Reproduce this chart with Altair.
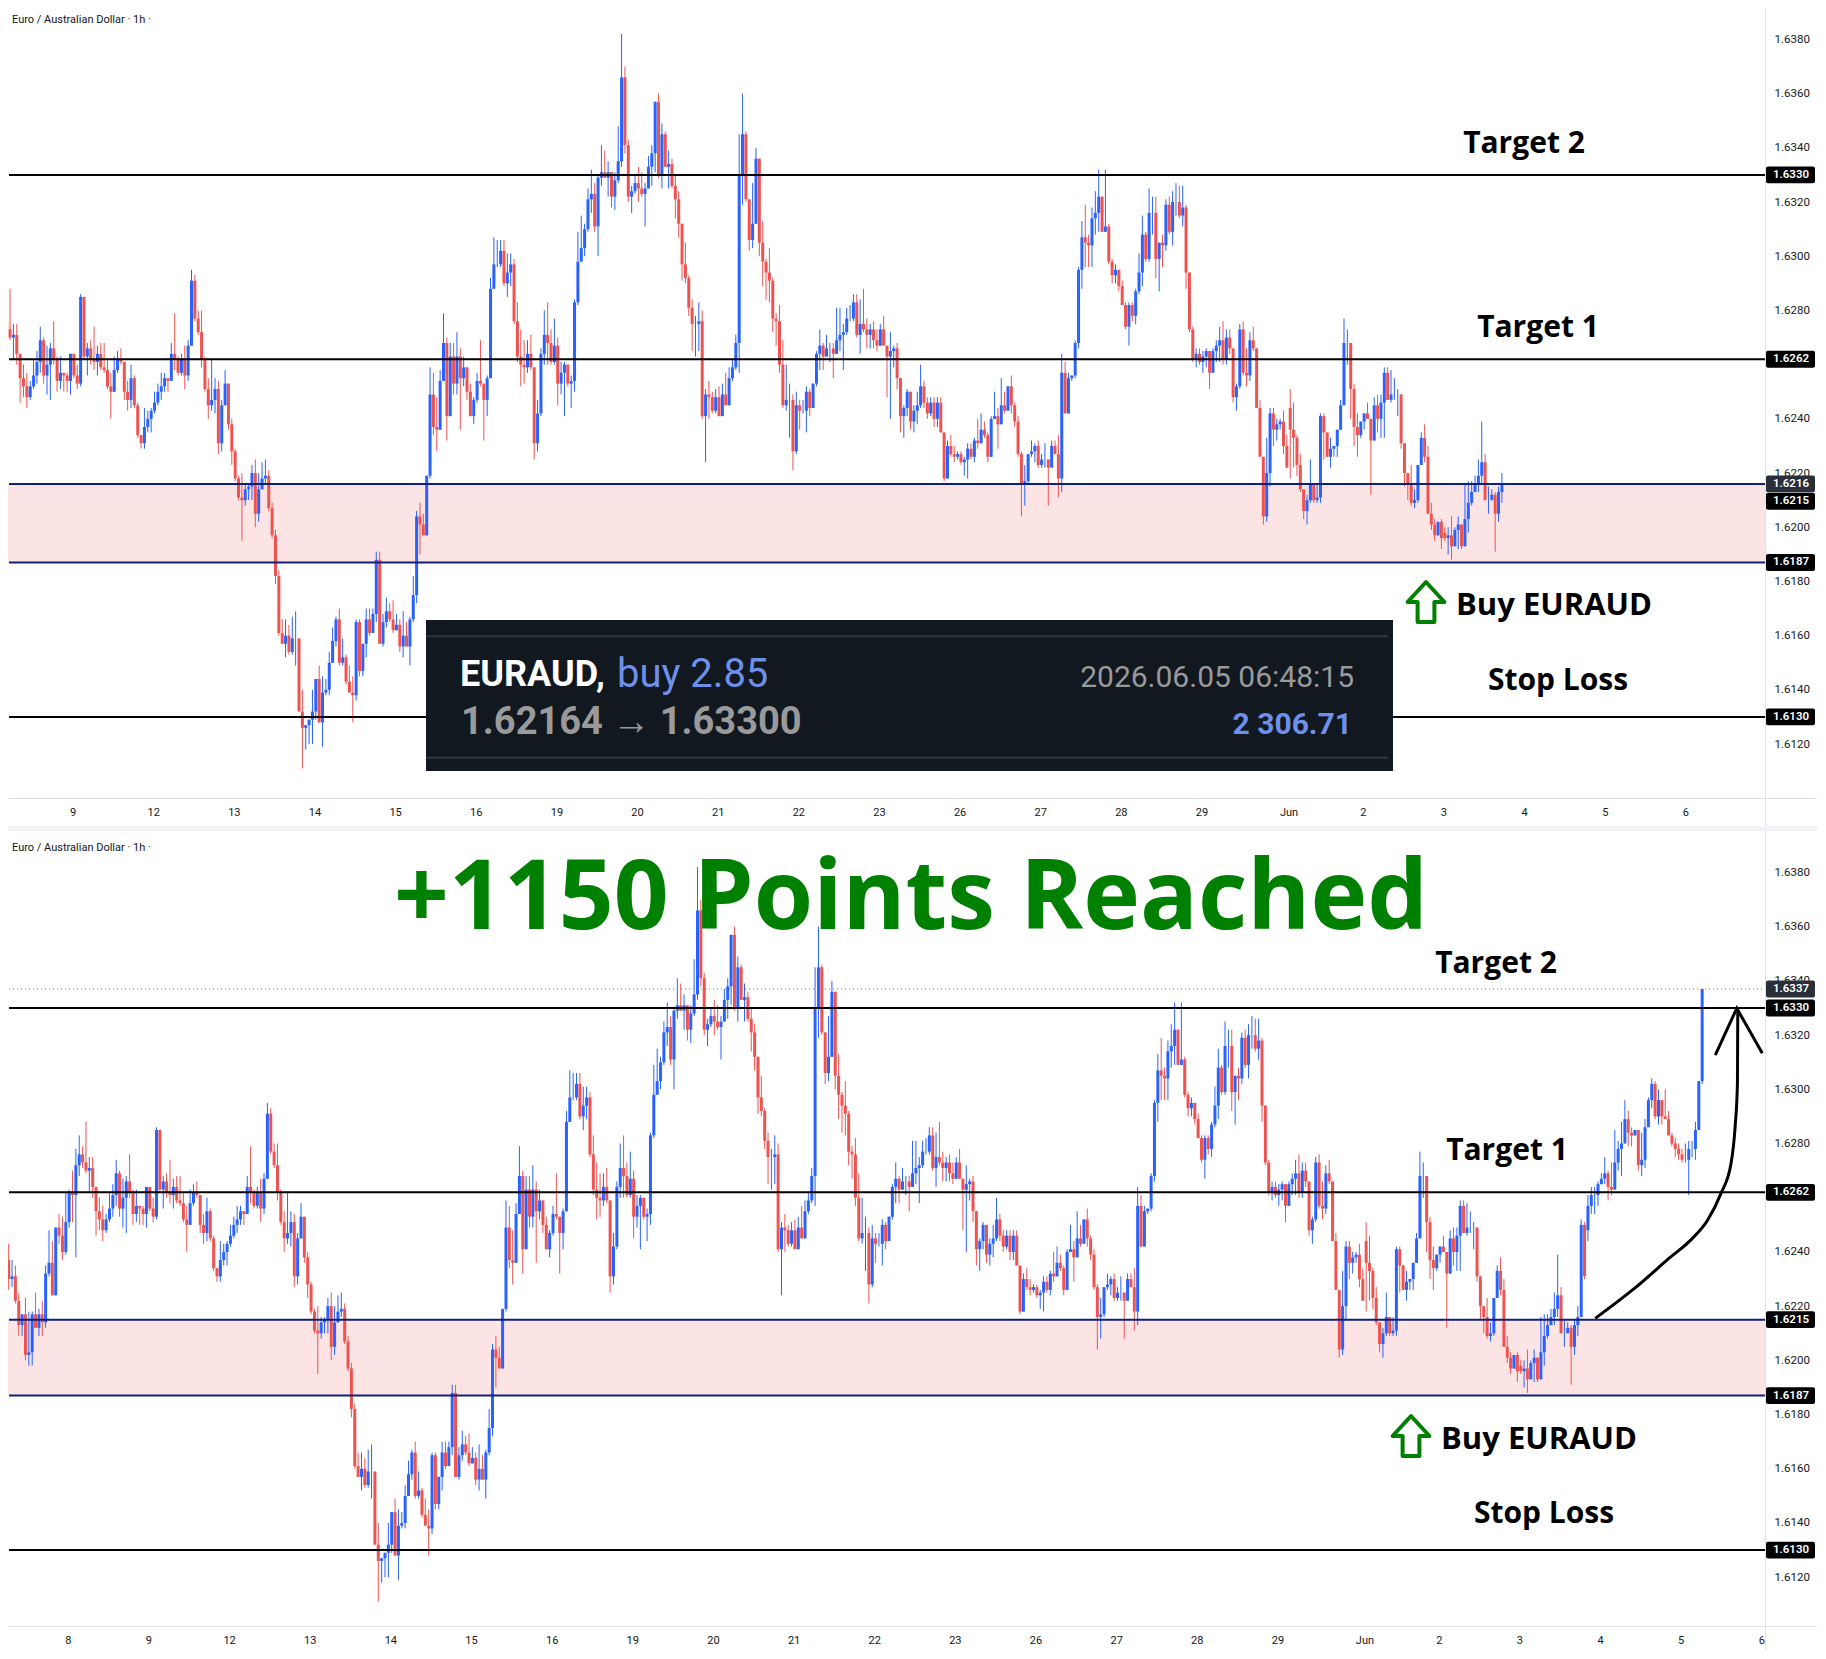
import altair as alt
import pandas as pd

# Candles as (close, high, low) in pips above 1.6000; optional 4th value = open when it differs from the previous close.
seg_a = [(230,243,226,237),(231,237,227),(222,235,221),(213,225,209),(217,217,209),(202,223,200),(203,218,198),(217,218,198),
 (212,225,212),(217,219,209),(214,222,209),(232,235,212),(236,248,231),(224,244,224),(249,249,224),(246,254,243),(240,253,237),
 (251,262,239),(262,263,249),(261,270,251),(272,278,238),(276,283,268)]
seg_b = [(273,279,271),(270,288,269),(271,275,262),(264,275,260),(255,264,246),(252,260,248),(248,257,244),(252,254,247),
 (256,262,251),(261,265,253),(269,274,257),(256,270,253),(260,267,249),(266,268,247),(262,276,260),(254,263,250),(257,263,251),
 (256,257,250),(254,257,250),(264,264,249),(256,264,255),(253,260,251),(285,286,252),(263,285,262),(266,268,256),(262,269,260),
 (261,274,258),(264,267,256),(259,268,258),(258,268,257),(252,262,251),(250,257,240),(258,263,250),(262,265,257),(261,266,260),
 (250,261,247),(247,254,243),(255,260,244),(245,256,244),(234,246,233)]
seg_c = [(231,234,229),(237,244,229),(240,243,235),(243,244,235),(246,250,242),(250,253,245),(252,257,247),(255,257,250),
 (254,255,250),(264,268,254),(262,279,258),(257,263,256),(262,264,256),(256,267,251),(267,269,254),(291,295,267),(277,293,276),
 (272,280,271),(262,280,259),(251,263,250),(245,255,240),(247,262,243),(251,255,242),(231,254,227),(245,247,228),(253,258,245),
 (238,253,236),(228,240,223),(218,229,217),(211,219,210),(210,220,195),(214,216,208),(215,216,210),(220,223,210),(205,225,200),
 (214,220,202),(218,224,214),(219,225,216),(207,221,206),(197,209,196)]
seg_d = [(182,199,179),(161,184,160),(157,166,157),(160,166,152),(154,164,153),(159,167,153),(159,169,149),(132,159,132),
 (126,140,111),(127,127,118),(129,129,120),(132,140,120),(144,144,129),(128,149,128),(139,145,119),(140,144,138),(150,154,138),
 (158,163,150),(166,167,156),(150,170,149),(152,159,149),(143,153,142),(139,149,139),(138,145,128),(165,166,136),(147,166,145),
 (157,157,145),(166,170,152),(161,170,160),(168,170,161),(188,191,165),(157,191,157),(165,168,156),(169,174,163),(166,172,165),
 (162,173,161),(164,168,162),(156,166,154),(160,169,152),(156,165,156),(166,167,149),(175,182,165),(204,206,172),(201,209,190),
 (197,205,197),(219,219,197)]
seg_e = [(249,259,218),(237,257,234),(236,248,228),(254,258,236),(268,279,254),(241,270,232),(263,268,241),(253,268,249),
 (263,272,249),(255,266,236),(259,263,252),(250,259,247),(241,253,241),(247,248,238),(254,257,246),(253,269,252),(247,252,232),
 (255,256,241),(288,292,255),(297,307,288),(297,306,296),(302,306,296),(290,306,289),(294,301,285),(297,301,289),(276,299,275),
 (263,283,261),(260,273,252),(259,269,253),(264,269,257),(259,271,258),(231,259,225),(242,247,228),(264,266,241),(271,280,260),
 (268,283,260),(261,273,260),(267,277,260),(253,270,245),(257,261,249),(260,261,241),(253,260,252),(254,256,244)]
seg_f = [(283,284,250),(298,309,282),(303,315,298),(310,312,300),(321,325,309),(323,332,316),(311,327,309),(329,330,300),
 (331,341,326),(329,339,329),(331,335,322),(322,331,318),(328,331,317),(335,348,327),(366,382,333),(341,370,338),(322,343,320),
 (324,326,316),(327,330,323),(325,333,320),(323,331,322),(325,327,311),(333,337,325),(338,341,326),(357,357,331),(330,360,329),
 (345,349,325),(333,346,333),(334,339,325),(326,336,325),(321,330,314),(312,324,307),(297,312,291),(292,305,290),(281,293,278),
 (275,284,265),(275,278,263),(276,283,265),(241,280,240),(249,251,224),(248,254,240),(243,250,242),(248,251,242),(241,252,241),
 (249,253,241),(245,257,245),(255,259,245),(259,262,254),(268,271,258)]
seg_g = [(330,345,257),(345,360,319),(321,346,320),(306,321,302),(312,327,303),(336,340,312),(305,336,300),(298,313,289),
 (294,299,284),(291,303,283),(277,292,272),(276,279,267),(260,282,257),(245,269,244),(247,260,243),(247,253,233),(228,249,221),
 (245,250,227),(243,247,236),(243,247,242),(250,252,235),(244,251,241),(253,253,244),(264,265,252),(267,273,258),(263,268,258),
 (266,271,263),(266,268,261),(264,268,255),(269,281,264),(271,281,265),(272,275,258),(277,281,271),(277,282,276),(283,286,276),
 (271,286,270),(275,284,264),(273,288,272),(271,277,266),(273,275,266),(269,276,266),(267,273,265),(273,275,267),(267,278,267),
 (263,263,248),(265,272,240),(266,267,259),(255,268,251),(241,255,235),(244,245,233),(250,251,241),(239,250,236),(243,245,235),
 (245,250,238),(252,260,244),(246,254,244),(242,248,240),(246,248,241),(240,248,237),(246,248,237),(235,248,235)]
seg_h = [(218,235,217),(230,232,218),(227,234,226),(226,230,224),(227,228,225),(224,228,223),(225,226,219),(229,231,218),
 (226,231,225),(232,233,224),(231,240,229),(236,242,231),(234,239,233),(226,235,224),(240,241,226),(241,250,240),(238,244,229),
 (245,255,238),(243,250,242),(252,252,243),(245,256,242),(239,246,237),(227,241,226),(216,228,204),(217,223,208),(227,227,216),
 (228,232,226),(230,231,224),(223,232,222),(225,227,222),(225,231,222),(222,225,208),(230,232,222),(227,232,227),(218,234,211),
 (257,264,213),(242,261,242),(255,257,243),(256,256,254),(268,269,255),(295,296,266),(307,313,288),(305,319,296),(304,308,296),
 (314,318,296),(316,324,308),(322,332,309),(309,322,309),(311,332,309),(298,312,297),(293,299,290),(295,297,290),(289,295,287),
 (282,291,282),(274,283,273),(282,283,267),(278,283,276),(287,288,275),(294,301,286),(308,315,289),(299,309,298),(316,325,298),
 (316,322,308),(299,322,292),(305,305,287),(304,308,296),(319,321,302),(309,322,308),(320,324,304),(320,327,315),(315,326,314),
 (318,326,311),(294,319,288),(273,294,272),(262,274,261),(264,266,259),(261,266,260),(263,265,257),(265,266,259),(257,265,251),
 (265,266,257),(267,269,261)]
seg_i = [(269,274,261),(262,276,260),(270,273,260),(266,273,264),(248,266,246),(252,253,243),(273,275,251),(257,276,256),
 (256,266,252),(269,272,254),(266,274,265),(244,266,244),(226,247,226),(204,226,201),(220,233,202),(242,244,215),(236,244,230),
 (238,240,232),(239,240,236),(230,243,227),(222,234,222),(236,251,218,244),(233,246,222),(223,234,219),(214,227,213),(206,214,203),
 (210,212,201),(216,225,209),(210,216,209),(211,216,209),(241,242,209),(235,242,225),(226,235,226),(229,233,222),(230,230,226),
 (236,236,226),(245,247,236),(268,277,245),(268,273,260),(251,268,240),(237,253,230),(234,242,226),(239,239,233),(242,242,236),
 (240,246,240),(232,240,212),(245,248,232),(240,249,235),(246,249,233),(257,259,233),(247,259,247),(249,258,246),(249,255,247),
 (249,251,241),(231,249,229),(220,231,215),(216,220,210),(209,223,208),(210,214,207),(223,223,209),(233,235,223),(226,238,224),
 (205,230,205),(201,209,199),(197,203,195),(202,202,197),(196,203,192),(196,200,195,198),(197,200,190),(193,204,188),(199,200,193),
 (201,204,192),(193,201,192),(203,216,193),(209,217,198),(213,217,208),(216,219,213),(219,225,213),(224,239,216),(210,227,210),
 (210,215,205),(212,214,210),(205,213,191),(213,215,202),(216,220,209)]
seg_j = [(250,252,217),(231,251,230),(257,261,244,248),(261,264,254),(261,264,254),(265,266,257),(267,269,265),(269,275,265),
 (264,270,259),(263,273,261),(273,285,263),(278,281,270),(280,288,268),(289,296,280),(284,292,279),(283,286,279),(285,285,283),
 (272,285,270),(274,284,268),(286,289,271),(296,297,286),(302,304,293),(290,303,289),(296,300,287),(290,296,287),(289,300,289),
 (283,292,283),(280,284,279),(278,282,275),(276,280,274),(274,278,273),(274,280,273),(278,281,261),(278,281,275),(285,288,274),
 (303,303,285),(337,337,302)]

all_segments = [seg_a, seg_b, seg_c, seg_d, seg_e, seg_f, seg_g, seg_h, seg_i, seg_j]
FIRST_BAR = -22
TOP_LAST_BAR = 445

# Axis content
day_ticks_top = ['9','12','13','14','15','16','19','20','21','22','23','26','27','28','29','Jun','2','3','4','5','6']
day_ticks_bottom = ['8','9','12','13','14','15','16','19','20','21','22','23','26','27','28','29','Jun','2','3','4','5','6']
first_tick_top = 19.6
first_tick_bottom = -4.4
price_ticks = [1.6120,1.6140,1.6160,1.6180,1.6200,1.6220,1.6240,1.6280,1.6300,1.6320,1.6340,1.6360,1.6380]

# Levels
black_levels = [1.6330, 1.6262, 1.6130]
zone_top_price = 1.6216
zone_bottom_bottom_price = 1.6215
zone_low_price = 1.6187
tags_top = [("1.6330",1.6330,"#000000"),("1.6262",1.6262,"#000000"),("1.6216",1.6216,"#2a2e39"),("1.6215",1.62096,"#000000"),
            ("1.6187",1.6187,"#000000"),("1.6130",1.6130,"#000000")]
tags_bottom = [("1.6337",1.6337,"#2a2e39"),("1.6330",1.6330,"#000000"),("1.6262",1.6262,"#000000"),("1.6215",1.6215,"#000000"),
               ("1.6187",1.6187,"#000000"),("1.6130",1.6130,"#000000")]
curve_k = [450.2,462.2,472.1,479.1,483.6,487.6,490.6,491.8,492.5,492.6]
curve_price = [1.62155,1.62269,1.62376,1.6245,1.62517,1.62616,1.62727,1.6286,1.63022,1.63292]
head_k = [485.9,492.3,499.9]
head_price = [1.63126,1.63299,1.63133]

BLUE, RED = "#2962ff", "#ef5350"
INK = "#131722"
GRID = "#e0e3eb"
GUTTER = "#f1f3f6"
GREEN = "#008000"
NAVY = "#10207a"
ZONE = "#fce4e4"

rows = []
prev = None
k = FIRST_BAR
for seg in all_segments:
    for bar in seg:
        c, h, l = bar[:3]
        o = bar[3] if len(bar) > 3 else prev
        rows.append(dict(k=k, open=1.6+o/1e4, close=1.6+c/1e4, high=1.6+max(h,o,c)/1e4, low=1.6+min(l,o,c)/1e4,
                         dir="up" if c >= o else "down"))
        prev = c
        k += 1
bars = pd.DataFrame(rows)
one = pd.DataFrame([{"a": 1}])

W = 1757
FULL = 1809


def panel(df, xdom, ydom, H, PAGE_TOP, ticks_lbl, first_tick, tags, zone_hi, hline_dot, texts, arrow_c, strip, gut_bottom, extras):
    tickvals = [round(first_tick + 24*i + (1.9 if t == "Jun" else 0), 2) for i, t in enumerate(ticks_lbl)]
    lbl = "[" + ",".join("'%s'" % t for t in ticks_lbl) + "]"
    xaxis = alt.Axis(values=tickvals, labelExpr=f"{lbl}[round((datum.value-({first_tick}))/24-0.04)]", title=None, grid=False,
                     ticks=False, domainColor=GRID, labelColor=INK, labelFont="Roboto", labelFontSize=11,
                     labelPadding=8, labelOverlap=False, labelFlush=False, labelBound=False)
    yaxis = alt.Axis(values=price_ticks, format=".4f", orient="right", title=None, grid=False, ticks=False, domainColor=GRID,
                     labelColor=INK, labelFont="Roboto", labelFontSize=11.5, labelPadding=9, labelOverlap=False,
                     labelFlush=False, labelBound=False)
    xs = alt.Scale(domain=xdom, nice=False, zero=False, padding=0)
    ys = alt.Scale(domain=ydom, nice=False, zero=False)
    X = lambda f="k": alt.X(f"{f}:Q", scale=xs, axis=xaxis)
    Y = lambda f: alt.Y(f"{f}:Q", scale=ys, axis=yaxis)
    col = alt.Color("dir:N", scale=alt.Scale(domain=["up","down"], range=[BLUE, RED]), legend=None)

    def box(color, x0, x1, y0, y1, **kw):
        return alt.Chart(one).mark_rect(color=color, **kw).encode(
            x=alt.value(x0), x2=alt.value(x1), y=alt.value(y0), y2=alt.value(y1))

    def level(p, color, width=2, **kw):
        return alt.Chart(pd.DataFrame([{"p": p}])).mark_rule(color=color, strokeWidth=width, **kw).encode(
            y=Y("p"), x=alt.value(1), x2=alt.value(W))

    layers = []
    zone = pd.DataFrame([{"a": zone_low_price, "b": zone_hi}])
    layers.append(alt.Chart(zone).mark_rect(color=ZONE).encode(y=Y("a"), y2="b:Q", x=alt.value(0), x2=alt.value(W)))
    if gut_bottom > H + strip:
        layers.append(box(GUTTER, 0, FULL, H + strip, gut_bottom))
    layers.append(box(GRID, 0, FULL, H, H + 1))
    layers.append(box(GRID, W, W + 1, H, H + strip))
    layers.append(alt.Chart(df).mark_rule(strokeWidth=1, clip=True).encode(x=X(), y=Y("low"), y2="high:Q", color=col))
    layers.append(alt.Chart(df).mark_bar(size=3, clip=True).encode(x=X(), y=Y("open"), y2="close:Q", color=col))
    for p in black_levels:
        layers.append(level(p, "#000000"))
    layers.append(level(zone_hi, NAVY))
    layers.append(level(zone_low_price, NAVY))
    if hline_dot:
        layers.append(level(hline_dot, "#787b86", 1, strokeDash=[1, 3]))
    layers += extras(box, X, Y)
    tagdf = pd.DataFrame([{"t": t, "y0": p - 0.00031, "y1": p + 0.00031, "p": p, "c": c} for t, p, c in tags])
    layers.append(alt.Chart(tagdf).mark_rect(cornerRadius=2).encode(
        y=Y("y0"), y2="y1:Q", x=alt.value(W + 1), x2=alt.value(W + 50), color=alt.Color("c:N", scale=None, legend=None)))
    layers.append(alt.Chart(tagdf).mark_text(color="#ffffff", font="Roboto", fontSize=11.5, fontWeight=600, align="center",
                                             baseline="middle").encode(y=Y("p"), x=alt.value(W + 26), text="t:N"))
    for t, x, y, font, size, weight, color, align in texts:
        layers.append(alt.Chart(one).mark_text(text=t, font=font, fontSize=size, fontWeight=weight, color=color, align=align,
                                               baseline="middle").encode(x=alt.value(x - 8), y=alt.value(y - PAGE_TOP)))
    layers.append(alt.Chart(one).mark_point(shape="M0,-.5L.46,0H.21V.5H-.21V0H-.46Z", size=6400, filled=False, opacity=1, color=GREEN,
                                            strokeWidth=4, strokeJoin="round").encode(
        x=alt.value(arrow_c[0] - 8), y=alt.value(arrow_c[1] - PAGE_TOP)))
    return alt.layer(*layers).properties(width=W, height=H)


def top_extras(box, X, Y):
    out = []
    out.append(box("#111820", 426 - 8, 1393 - 8, 620 - 8, 771 - 8))
    out.append(box("#2a323c", 426 - 8, 1388 - 8, 635 - 8, 637.5 - 8))
    out.append(box("#2a323c", 426 - 8, 1388 - 8, 756.5 - 8, 759 - 8))
    return out


def bottom_extras(box, X, Y):
    c = pd.DataFrame({"k": curve_k, "p": curve_price, "o": range(len(curve_k))})
    h = pd.DataFrame({"k": head_k, "p": head_price, "o": range(len(head_k))})
    return [alt.Chart(c).mark_line(color="#000000", strokeWidth=3, interpolate="monotone").encode(x=X(), y=Y("p"), order="o:Q"),
            alt.Chart(h).mark_line(color="#000000", strokeWidth=3).encode(x=X(), y=Y("p"), order="o:Q")]


BOXFONT = "Roboto"
LABEL = "Open Sans"
header = "Euro / Australian Dollar · 1h ·"
texts_top = [
    (header, 12, 20, "Roboto", 11, 400, INK, "left"),
    ("Target 2", 1524, 144, LABEL, 30, 700, "#000000", "center"),
    ("Target 1", 1538, 328, LABEL, 30, 700, "#000000", "center"),
    ("Buy EURAUD", 1456, 606, LABEL, 31, 700, "#000000", "left"),
    ("Stop Loss", 1558, 681, LABEL, 30, 700, "#000000", "center"),
    ("EURAUD,", 460, 675, BOXFONT, 36, 700, "#ffffff", "left"),
    ("buy 2.85", 617, 675, BOXFONT, 40, 400, "#6f90e8", "left"),
    ("1.62164 → 1.63300", 461, 723, BOXFONT, 38, 700, "#9a9a9a", "left"),
    ("2026.06.05 06:48:15", 1354, 678, BOXFONT, 30, 400, "#9a9a9a", "right"),
    ("2 306.71", 1352, 725, BOXFONT, 30, 700, "#6f90e8", "right"),
]
texts_bottom = [
    (header, 12, 848, "Roboto", 11, 400, INK, "left"),
    ("+1150 Points Reached", 911, 900, LABEL, 96, 700, GREEN, "center"),
    ("Target 2", 1496, 964, LABEL, 30, 700, "#000000", "center"),
    ("Target 1", 1507, 1151, LABEL, 30, 700, "#000000", "center"),
    ("Buy EURAUD", 1441, 1440, LABEL, 31, 700, "#000000", "left"),
    ("Stop Loss", 1544, 1514, LABEL, 30, 700, "#000000", "center"),
]

top_df = bars[bars.k <= TOP_LAST_BAR]
top_chart = panel(top_df, [0.39, 523.3], [1.61001, 1.63916], 790, 8, day_ticks_top, first_tick_top, tags_top,
                  zone_top_price, None, texts_top, (1426, 602), 28, 823, top_extras)
bot_chart = panel(bars, [-22.2, 500.7], [1.61020, 1.63953], 795, 831, day_ticks_bottom, first_tick_bottom, tags_bottom,
                  zone_bottom_bottom_price, 1.6337, texts_bottom, (1411, 1436), 24, 819, bottom_extras)

chart = alt.vconcat(top_chart, bot_chart, spacing=33, bounds="flush", background="#ffffff", padding=0).resolve_scale(
    x="independent", y="independent", color="independent"
).configure_view(strokeWidth=0)

chart.save("out.html", embed_options={"renderer": "svg", "actions": False})
